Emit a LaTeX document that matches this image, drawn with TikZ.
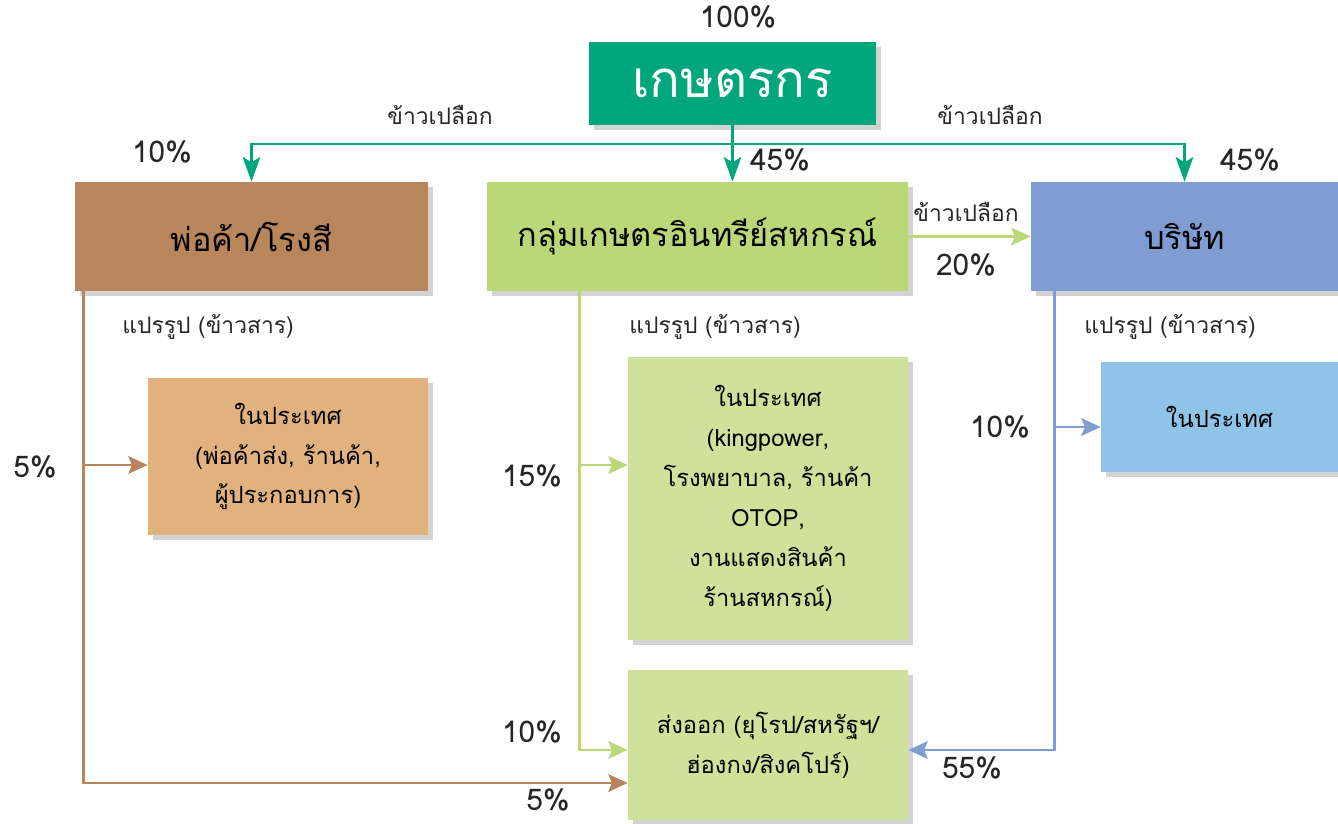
\documentclass[tikz,border=0pt]{standalone}
\usepackage{fontspec}
\setmainfont{Loma}[Script=Thai]
\usetikzlibrary{arrows.meta,shadows}

\definecolor{farmgreen}{HTML}{00A77D}
\definecolor{tradebrown}{HTML}{B8865A}
\definecolor{coopgreen}{HTML}{BBD878}
\definecolor{compblue}{HTML}{7F9DD2}
\definecolor{tradelight}{HTML}{E2B27E}
\definecolor{cooplight}{HTML}{D0E29A}
\definecolor{complight}{HTML}{8FC3E8}

\begin{document}
\begin{tikzpicture}[x=0.02cm,y=-0.02cm,
    box/.style={rectangle,inner sep=0pt,align=center,
        drop shadow={opacity=0.35,shadow xshift=3pt,shadow yshift=-3pt}},
    bigtxt/.style={font=\fontsize{18.5}{22}\selectfont},
    smalltxt/.style={font=\fontsize{13.5}{22.7}\selectfont},
    pct/.style={font=\fontsize{17}{20}\selectfont,text=black!85,inner sep=1pt},
    note/.style={font=\fontsize{13}{15}\selectfont,text=black!85},
    flow/.style={line width=1.4pt},
    tip/.style={-{Stealth[length=11pt,width=10pt,inset=2pt]}},
    longtip/.style={-{Stealth[length=14pt,width=10pt,inset=3pt]}}]

    \useasboundingbox (0,0) rectangle (1338,823);

    % boxes
    \node[box,fill=farmgreen,minimum width=5.74cm,minimum height=1.66cm,
          text=white,font=\fontsize{29}{33}\selectfont] (farmer) at (732.5,83.5) {เกษตรกร};
    \node[box,bigtxt,fill=tradebrown,minimum width=7.06cm,minimum height=2.18cm] (trader) at (251.5,236.5) {พ่อค้า/โรงสี};
    \node[box,bigtxt,fill=coopgreen,minimum width=8.42cm,minimum height=2.18cm] (coop) at (697.5,236.5) {กลุ่มเกษตรอินทรีย์สหกรณ์};
    \node[box,bigtxt,fill=compblue,minimum width=6.14cm,minimum height=2.18cm] (company) at (1184.5,236.5) {บริษัท};

    \node[box,smalltxt,fill=tradelight,minimum width=5.6cm,minimum height=3.14cm] (tradein) at (288,456.5)
        {ในประเทศ\\(พ่อค้าส่ง, ร้านค้า,\\ผู้ประกอบการ)};
    \node[box,smalltxt,fill=cooplight,minimum width=5.6cm,minimum height=5.66cm] (coopin) at (768,498.5)
        {ในประเทศ\\(kingpower,\\โรงพยาบาล, ร้านค้า\\OTOP,\\งานแสดงสินค้า\\ร้านสหกรณ์)};
    \node[box,smalltxt,fill=complight,minimum width=4.74cm,minimum height=2.2cm] (compin) at (1219.5,417) {ในประเทศ};
    \node[box,smalltxt,fill=cooplight,minimum width=5.6cm,minimum height=3cm] (export) at (768,745)
        {ส่งออก (ยุโรป/สหรัฐฯ/\\ฮ่องกง/สิงคโปร์)};

    % paddy from the farmers
    \coordinate (split) at (farmer.south |- 0,144);
    \draw[flow,farmgreen,longtip] (farmer.south) -- (farmer.south |- coop.north);
    \draw[flow,farmgreen,longtip] (split) -| (trader.north);
    \draw[flow,farmgreen,longtip] (split) -| (company.north);
    \draw[flow,coopgreen,tip] (coop.east) -- (company.west);

    % trader branch
    \coordinate (tb) at ([xshift=0.18cm]trader.south west);
    \draw[flow,tradebrown,tip] (tb) |- ([yshift=-0.76cm]export.west);
    \draw[flow,tradebrown,tip] (tb |- 0,465) -- (tradein.west |- 0,465);

    % coop branch
    \coordinate (cb) at ([xshift=1.86cm]coop.south west);
    \draw[flow,coopgreen,tip] (cb) |- (export.west |- 0,750);
    \draw[flow,coopgreen,tip] (cb |- 0,465) -- (coopin.west |- 0,465);

    % company branch
    \coordinate (pb) at ([xshift=0.48cm]company.south west);
    \draw[flow,compblue,tip] (pb) |- (export.east |- 0,750);
    \draw[flow,compblue,tip] (pb |- 0,427) -- (compin.west |- 0,427);

    % labels
    \node[pct] (p100) at (738,17) {100\%};
    \node[note] (paddyL) at (440,115) {ข้าวเปลือก};
    \node[note] (paddyR) at (990,115) {ข้าวเปลือก};
    \node[pct] (p10a) at (162,152) {10\%};
    \node[pct] (p45a) at (780,160) {45\%};
    \node[pct] (p45b) at (1250,160) {45\%};
    \node[note] (paddyC) at (966,212) {ข้าวเปลือก};
    \node[pct] (p20) at (966,265) {20\%};
    \node[note] (procA) at (208,327) {แปรรูป (ข้าวสาร)};
    \node[note] (procB) at (715,327) {แปรรูป (ข้าวสาร)};
    \node[note] (procC) at (1170,327) {แปรรูป (ข้าวสาร)};
    \node[pct] (p5a) at (35,467) {5\%};
    \node[pct] (p5b) at (548,800) {5\%};
    \node[pct] (p15) at (532,476) {15\%};
    \node[pct] (p10b) at (532,732) {10\%};
    \node[pct] (p10c) at (1000,427) {10\%};
    \node[pct] (p55) at (972,768) {55\%};
\end{tikzpicture}
\end{document}
